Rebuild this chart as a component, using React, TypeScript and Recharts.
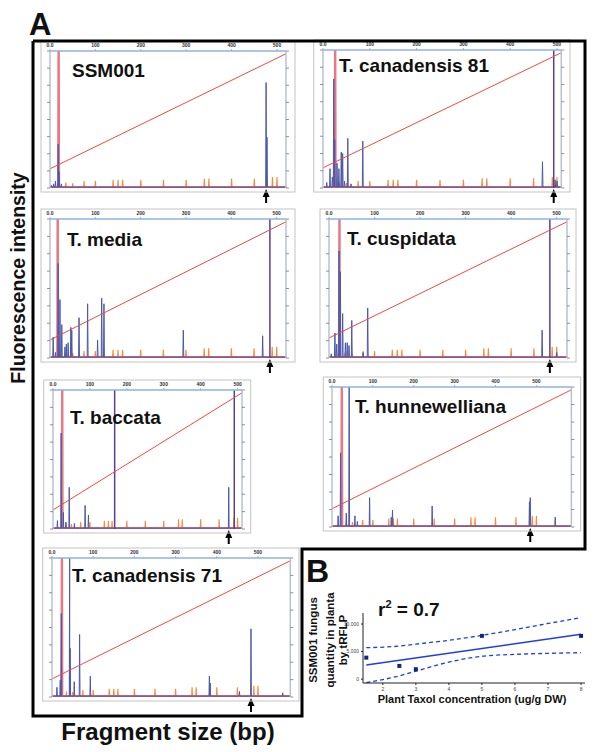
import React from 'react';
import { ComposedChart, Line, XAxis, YAxis, ReferenceDot, Scatter } from 'recharts';

// GeneScan size standard (bp) and its peak heights (% of panel height)
const standardSizes = [35, 50, 75, 100, 139, 150, 160, 200, 250, 300, 340, 350, 400, 450, 490, 500];
const standardHeights = [4, 3.5, 5, 5, 6, 6, 6, 6, 6, 6, 7, 7, 7, 7, 8, 8];
const sizeTicks = [0, 100, 200, 300, 400, 500];
const intensityTicks = [0, 12.5, 25, 37.5, 50, 62.5, 75, 87.5, 100];

// blue trace peaks [bp, height %] per sample (heights > 100 are off scale)
const ssm001Peaks = [[3, 2], [8, 3], [12, 5], [18, 32], [20, 12], [25, 3], [476, 77], [478, 37]];
const canadensis81Peaks = [[8, 4], [15, 14], [20, 8], [23, 79], [25, 35], [30, 18], [34, 14], [39, 26], [42, 25], [46, 5], [53, 36], [60, 3], [85, 34], [469, 19], [496, 6], [500, 5]];
const mediaPeaks = [[7, 15], [12, 4], [18, 68], [22, 42], [26, 24], [33, 8], [36, 10], [40, 11], [46, 22], [48, 20], [64, 29], [83, 39], [105, 13], [114, 43], [119, 39], [294, 20], [469, 16]];
const cuspidataPeaks = [[5, 3], [13, 18], [17, 10], [22, 77], [25, 62], [30, 32], [36, 11], [40, 11], [44, 9], [50, 27], [75, 4], [85, 36], [468, 20], [500, 4]];
const baccataPeaks = [[12, 6], [22, 69], [28, 12], [35, 5], [44, 30], [58, 4], [87, 17], [96, 10], [476, 30]];
const hunnewellianaPeaks = [[15, 8], [21, 53], [35, 10], [42, 130], [56, 8], [62, 4], [92, 21], [145, 7], [148, 12], [245, 15], [483, 18], [485, 21], [546, 7]];
const canadensis71Peaks = [[12, 7], [20, 12], [22.6, 60], [43, 130], [44, 35], [54, 11], [67, 45], [93, 15], [382, 15], [384, 10], [455, 4], [483, 49], [560, 3]];

// off-scale primer peak (red dye), off-scale overlapping peaks (purple)
const primerPeaks = [19, 26, 17, 23, 25, 24, 24];
const overlapPeaks = [[], [493], [485], [485], [167, 491], [], []];
// SSM001 fragment marked by the arrow
const arrowSizes = [476, 493, 485, 485, 476, 485, 483];
// sizing curve: start and end (% of panel height)
const calibrationStart = [14, 14.6, 13, 14.4, 13.7, 13, 13];
const calibrationEnd = 98;

const sampleNames = ['SSM001', 'T. canadensis 81', 'T. media', 'T. cuspidata', 'T. baccata', 'T. hunnewelliana', 'T. canadensis 71'];
const samplePeaks = [ssm001Peaks, canadensis81Peaks, mediaPeaks, cuspidataPeaks, baccataPeaks, hunnewellianaPeaks, canadensis71Peaks];

// panel B
const taxolConc = [1.5, 2.5, 3, 5, 8];
const fungusQty = [3900, 2400, 1800, 7850, 7850];
const fitX = [1.5, 8];
const fitY = [2550, 8150];
const bandX = [1.5, 2.5, 3, 4, 5, 6, 7, 8];
const upperBand = [5700, 6000, 6350, 7050, 7950, 9000, 10100, 11150];
const lowerBand = [-650, 600, 1450, 3100, 4150, 4500, 4680, 4800];
const taxolTicks = [2, 3, 4, 5, 6, 7, 8];
const qtyTicks = [0, 5000, 10000];

// panel placement on the page: x of 0 bp, x of 500 bp, right edge, top, baseline
const panelLayout = [
  { px0: 50, px500: 277, right: 286, top: 51, bottom: 188, labelX: 72, labelY: 77 },
  { px0: 322.7, px500: 556.7, right: 561, top: 50, bottom: 188, labelX: 339, labelY: 72 },
  { px0: 50, px500: 276.7, right: 286, top: 219, bottom: 358, labelX: 67, labelY: 246 },
  { px0: 329, px500: 556.7, right: 567, top: 219, bottom: 358, labelX: 347, labelY: 245 },
  { px0: 52.7, px500: 237.3, right: 241.7, top: 390, bottom: 529, labelX: 70, labelY: 424 },
  { px0: 332.3, px500: 536.7, right: 571.7, top: 387, bottom: 527, labelX: 355, labelY: 413 },
  { px0: 51.7, px500: 257.7, right: 290, top: 558, bottom: 697, labelX: 72, labelY: 582 },
];

const FONT = '"Liberation Sans", Arial, Helvetica, sans-serif';

const toTrace = (peaks: number[][], end: number) => {
  const pts = [{ bp: 0, v: 0.6 }];
  peaks.forEach(([bp, h]) => {
    pts.push({ bp: bp - 1, v: 0.6 }, { bp, v: h }, { bp: bp + 1, v: 0.6 });
  });
  pts.push({ bp: end, v: 0.6 });
  return pts.sort((a, b) => a.bp - b.bp);
};

const Arrow = (props: any) => {
  const { cx, cy } = props;
  return (
    <g>
      <path d={`M${cx},${cy + 1} L${cx - 3.5},${cy + 9} L${cx + 3.5},${cy + 9} Z`} fill="#000" />
      <line x1={cx} x2={cx} y1={cy + 8} y2={cy + 15} stroke="#000" strokeWidth={2} />
    </g>
  );
};

const Square = (props: any) => {
  const { cx, cy } = props;
  return <rect x={cx - 2} y={cy - 2} width={4} height={4} fill="#17237a" />;
};

const geometry = (l: typeof panelLayout[number]) => {
  const xMax = (500 * (l.right - l.px0)) / (l.px500 - l.px0);
  return { xMax, L: l.px0 - 7, T: l.top - 8, W: l.right - l.px0 + 14, H: l.bottom - l.top + 8 + 17 };
};

const Panel = ({ i }: { i: number }) => {
  const l = panelLayout[i];
  const { xMax, L, T, W, H } = geometry(l);
  const blue = toTrace(samplePeaks[i], xMax);
  const orange = toTrace(standardSizes.map((s, k) => [s, standardHeights[k]]), xMax);
  const primer = toTrace([[primerPeaks[i], 140]], xMax);
  const overlap = overlapPeaks[i].map((s) => [
    { bp: s, v: 0 },
    { bp: s, v: 140 },
  ]);
  const calibration = [
    { bp: 0, v: calibrationStart[i] },
    { bp: xMax, v: calibrationEnd },
  ];
  const axisTick = { stroke: '#777', strokeWidth: 0.8 };
  return (
    <div style={{ position: 'absolute', left: L, top: T }}>
      <ComposedChart width={W} height={H} margin={{ top: 0, right: 0, bottom: 17, left: 0 }}>
        <XAxis
          xAxisId="bp"
          type="number"
          dataKey="bp"
          orientation="top"
          domain={[0, xMax]}
          allowDataOverflow
          ticks={sizeTicks}
          tickFormatter={(v) => (v === 0 ? '0.0' : String(v))}
          height={8}
          tickSize={2}
          tick={{ fontSize: 5, fill: '#333', fontWeight: 700, fontFamily: FONT }}
          axisLine={{ stroke: '#8db3e2', strokeWidth: 1.5 }}
          tickLine={{ stroke: '#8db3e2' }}
        />
        <YAxis
          yAxisId="int"
          type="number"
          domain={[0, 100]}
          allowDataOverflow
          ticks={intensityTicks}
          tickFormatter={() => ''}
          width={7}
          tickSize={3}
          axisLine={{ stroke: '#b6c2d2', strokeWidth: 1.5 }}
          tickLine={axisTick}
        />
        <YAxis
          yAxisId="cal"
          orientation="right"
          type="number"
          domain={[0, 100]}
          allowDataOverflow
          ticks={intensityTicks}
          tickFormatter={() => ''}
          width={7}
          tickSize={3}
          axisLine={{ stroke: '#b6c2d2', strokeWidth: 1.5 }}
          tickLine={axisTick}
        />
        <Line xAxisId="bp" yAxisId="int" data={orange} dataKey="v" type="linear" stroke="#f58a3a" strokeWidth={1.1} dot={false} isAnimationActive={false} />
        <Line xAxisId="bp" yAxisId="int" data={primer} dataKey="v" type="linear" stroke="#e25667" strokeOpacity={0.8} strokeWidth={2.2} dot={false} isAnimationActive={false} />
        <Line xAxisId="bp" yAxisId="int" data={blue} dataKey="v" type="linear" stroke="#4c58a8" strokeWidth={1} dot={false} isAnimationActive={false} />
        {overlap.map((d, k) => (
          <Line key={k} xAxisId="bp" yAxisId="int" data={d} dataKey="v" type="linear" stroke="#5a3f8e" strokeWidth={1.5} dot={false} isAnimationActive={false} />
        ))}
        <Line xAxisId="bp" yAxisId="cal" data={calibration} dataKey="v" type="linear" stroke="#ee4a3e" strokeWidth={1} dot={false} isAnimationActive={false} />
        <ReferenceDot xAxisId="bp" yAxisId="int" x={arrowSizes[i]} y={0} ifOverflow="visible" shape={Arrow} />
      </ComposedChart>
    </div>
  );
};

const PanelB = () => {
  const points = taxolConc.map((x, k) => ({ x, y: fungusQty[k] }));
  const fit = fitX.map((x, k) => ({ x, y: fitY[k] }));
  const upper = bandX.map((x, k) => ({ x, y: upperBand[k] }));
  const lower = bandX.map((x, k) => ({ x, y: lowerBand[k] }));
  const tick = { fontSize: 5, fill: '#444', fontFamily: FONT };
  return (
    <div style={{ position: 'absolute', left: 341, top: 608 }}>
      <ComposedChart width={249} height={87} margin={{ top: 5, right: 5, bottom: 0, left: 0 }}>
        <XAxis type="number" dataKey="x" domain={[1.4, 8.12]} ticks={taxolTicks} height={12} tickSize={2} tick={tick} axisLine={{ stroke: '#222' }} tickLine={{ stroke: '#222' }} />
        <YAxis type="number" domain={[-700, 12000]} ticks={qtyTicks} width={22} tickSize={2} tick={tick} tickFormatter={(v) => v.toLocaleString('en-US')} axisLine={{ stroke: '#222' }} tickLine={{ stroke: '#222' }} />
        <Line data={upper} dataKey="y" type="monotone" stroke="#1f3fdd" strokeWidth={1.3} strokeDasharray="4 3" dot={false} isAnimationActive={false} />
        <Line data={lower} dataKey="y" type="monotone" stroke="#1f3fdd" strokeWidth={1.3} strokeDasharray="4 3" dot={false} isAnimationActive={false} />
        <Line data={fit} dataKey="y" type="linear" stroke="#1f3fdd" strokeWidth={1.5} dot={false} isAnimationActive={false} />
        <Scatter data={points} dataKey="y" shape={Square} isAnimationActive={false} />
      </ComposedChart>
    </div>
  );
};

export default function App() {
  return (
    <div style={{ position: 'absolute', left: 0, top: 0, width: 600, height: 752, background: '#fff', fontFamily: FONT }}>
      {panelLayout.map((_, i) => (
        <Panel key={i} i={i} />
      ))}
      <PanelB />
      <svg width={600} height={752} style={{ position: 'absolute', left: 0, top: 0, pointerEvents: 'none' }} fontFamily={FONT}>
        {panelLayout.map((l, i) => {
          const { L, T, W } = geometry(l);
          return <rect key={i} x={L - 2} y={T - 2} width={W + 4} height={l.bottom + 4 - (T - 2)} fill="none" stroke="#c4c4c4" strokeWidth={1} />;
        })}
        <polyline points="33,41 585,41 585,549 302,549 302,716 33,716 33,41" fill="none" stroke="#000" strokeWidth={3} />
        <text x={29} y={35} fontSize={31} fontWeight={700} fill="#111">A</text>
        <text x={306} y={582} fontSize={32} fontWeight={700} fill="#111">B</text>
        <text x={18} y={278} fontSize={19.5} fontWeight={700} fill="#111" textAnchor="middle" dominantBaseline="central" transform="rotate(-90 18 278)">
          Fluorescence intensity
        </text>
        <text x={168} y={740} fontSize={24} fontWeight={700} fill="#111" textAnchor="middle">Fragment size (bp)</text>
        {panelLayout.map((l, i) => (
          <text key={i} x={l.labelX} y={l.labelY} fontSize={19} fontWeight={700} fill="#111">{sampleNames[i]}</text>
        ))}
        <text x={316.5} y={640} fontSize={11.5} fontWeight={700} fill="#111" textAnchor="middle" transform="rotate(-90 316.5 640)">SSM001 fungus</text>
        <text x={334} y={640} fontSize={11.5} fontWeight={700} fill="#111" textAnchor="middle" transform="rotate(-90 334 640)">quantity in planta</text>
        <text x={346.5} y={640} fontSize={11.5} fontWeight={700} fill="#111" textAnchor="middle" transform="rotate(-90 346.5 640)">by tRFLP</text>
        <text x={378} y={616} fontSize={19} fontWeight={700} fill="#111">
          r<tspan fontSize={11} dy={-8}>2</tspan><tspan dy={8}> = 0.7</tspan>
        </text>
        <text x={472} y={703} fontSize={11} fontWeight={700} fill="#111" textAnchor="middle">Plant Taxol concentration (ug/g DW)</text>
      </svg>
    </div>
  );
}
